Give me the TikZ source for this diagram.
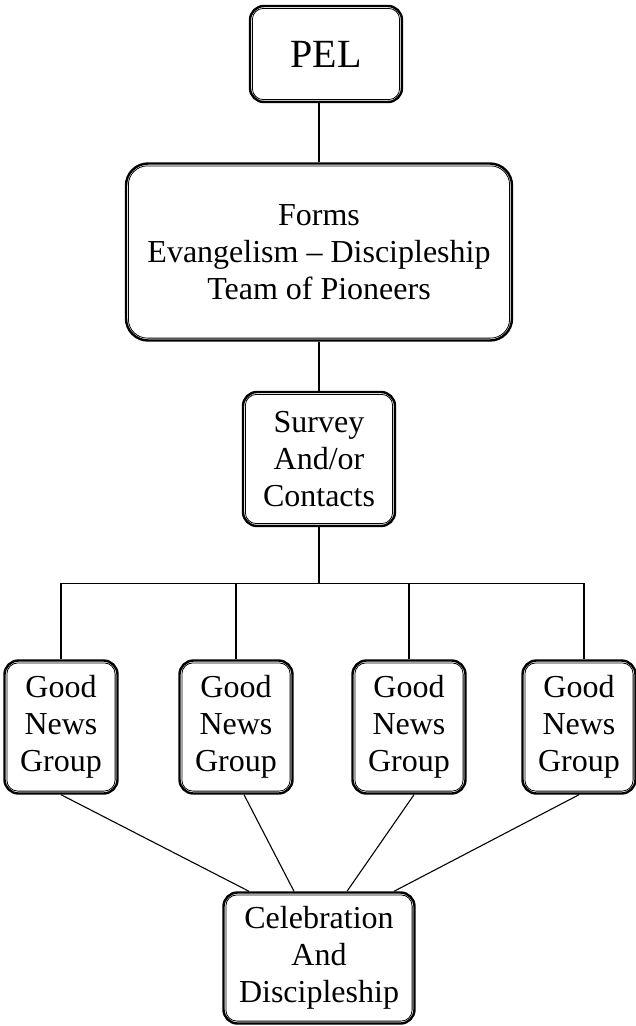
\documentclass[tikz,border=0pt]{standalone}
\usepackage{fontspec}
\setmainfont{Liberation Serif}
\usetikzlibrary{positioning}

\begin{document}
\begin{tikzpicture}[x=1pt, y=-1pt, on grid, auto]
                \tikzset{dbox/.style={draw, line width=2.4pt, rounded corners=14pt,
                    inner sep=0pt, align=center, font=\fontsize{32}{37}\selectfont},
                    link/.style={line width=1.1pt}}
                \useasboundingbox (0,0) rectangle (635,1026);

                % TOP
                \node[dbox, minimum width=152pt, minimum height=96pt,
                      font=\fontsize{40}{46}\selectfont] (pel) at (326,54) {PEL};
                \node[dbox, minimum width=386pt, minimum height=177pt, rounded corners=22pt]
                      (fm) [below=198pt of pel, xshift=-7pt]
                      {Forms\\Evangelism -- Discipleship\\Team of Pioneers};
                \node[dbox, minimum width=152pt, minimum height=134pt] (sv) [below=207pt of fm]
                      {Survey\\And/or\\Contacts};

                % GROUPS
                \node[dbox, minimum width=113pt, minimum height=133pt] (g2) [below left=268pt and 83pt of sv]
                      {Good\\News\\Group};
                \node[dbox, minimum width=113pt, minimum height=133pt] (g3) [below right=268pt and 90pt of sv]
                      {Good\\News\\Group};
                \node[dbox, minimum width=113pt, minimum height=133pt] (g1) [left=175pt of g2]
                      {Good\\News\\Group};
                \node[dbox, minimum width=113pt, minimum height=133pt] (g4) [right=170pt of g3]
                      {Good\\News\\Group};

                % BOTTOM
                \node[dbox, minimum width=191pt, minimum height=131pt] (cel) [below right=231pt and 83pt of g2]
                      {Celebration\\And\\Discipleship};

                % INNER BORDERS
                \foreach \n in {pel, sv, g1, g2, g3, g4, cel}
                    \draw[line width=0.8pt, rounded corners=11pt]
                        ([shift={(3.6pt,3.6pt)}]\n.south west) rectangle ([shift={(-3.6pt,-3.6pt)}]\n.north east);
                \draw[line width=0.8pt, rounded corners=19pt]
                    ([shift={(3.6pt,3.6pt)}]fm.south west) rectangle ([shift={(-3.6pt,-3.6pt)}]fm.north east);

                % LINKS
                \coordinate[below=56pt of sv.south] (bus);
                \draw[link] (fm.north) -- (fm.north |- pel.south);
                \draw[link] (fm.south) -- (fm.south |- sv.north);
                \draw[link] (sv.south) -- (bus);
                \draw[link] (g1.north) -- (g1.north |- bus) -- ([xshift=5pt]g4.north |- bus) -- ([xshift=5pt]g4.north);
                \draw[link] (g2.north) -- (g2.north |- bus);
                \draw[link] (g3.north) -- (g3.north |- bus);
                \draw[link] (g1.south) -- ([xshift=-70pt]cel.north);
                \draw[link] ([xshift=8pt]g2.south) -- ([xshift=-25pt]cel.north);
                \draw[link] ([xshift=5pt]g3.south) -- ([xshift=28pt]cel.north);
                \draw[link] (g4.south) -- ([xshift=75pt]cel.north);

            \end{tikzpicture}
\end{document}
